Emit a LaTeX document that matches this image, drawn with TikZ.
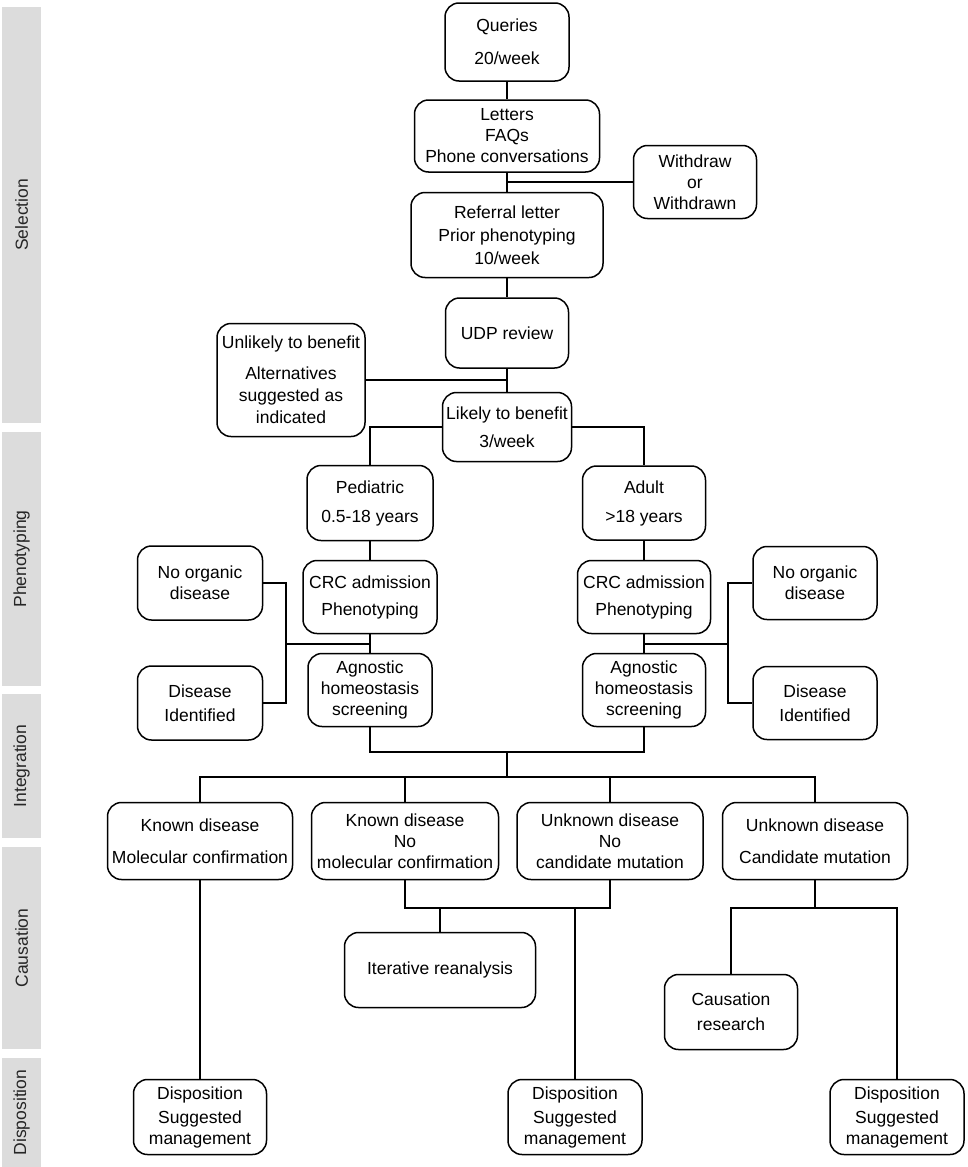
\documentclass[tikz,border=0pt]{standalone}
\usepackage{fontspec}
\setmainfont{Liberation Sans}
\usepackage{tikz}
\usetikzlibrary{calc}
\definecolor{bargrey}{HTML}{DCDCDC}
\definecolor{bartext}{HTML}{262626}

\begin{document}
\begin{tikzpicture}[x=1pt, y=-1pt,
    stage/.style={draw, line width=1.5pt, rounded corners=14pt, align=center,
        inner sep=2pt, font=\fontsize{17.5}{21}\selectfont},
    phase/.style={fill=bargrey, rotate=90, inner sep=0pt, minimum height=39pt,
        text=bartext, font=\fontsize{17.5}{20}\selectfont},
    link/.style={line width=1.5pt}]

\useasboundingbox (0,0) rectangle (968,1167);

% ---- BARRES DE FASE (esquerra) ----
\node[phase, minimum width=416pt] (selection) at (21.5,215) {Selection};
\node[phase, minimum width=254pt] (phenotyping) at (21.5,559) {Phenotyping};
\node[phase, minimum width=144pt] (integration) at (21.5,766) {Integration};
\node[phase, minimum width=202pt] (causation) at (21.5,948) {Causation};
\node[phase, minimum width=109pt] (disposition) at (21.5,1112.5) {Disposition};

% ---- SELECCIO ----
\node[stage, minimum width=124pt, minimum height=78pt] (queries) at (507,42)
    {Queries\\[12pt]20/week};
\node[stage, minimum width=185pt, minimum height=72pt] (letters) at (507,136)
    {Letters\\FAQs\\Phone conversations};
\node[stage, minimum width=123pt, minimum height=73pt] (withdraw) at (695,182)
    {Withdraw\\or\\Withdrawn};
\node[stage, minimum width=192pt, minimum height=85pt] (referral) at (507,235)
    {Referral letter\\[2pt]Prior phenotyping\\[2pt]10/week};
\node[stage, minimum width=123pt, minimum height=70pt] (review) at (507,333)
    {UDP review};
\node[stage, minimum width=148pt, minimum height=113pt] (unlikely) at (291,380)
    {Unlikely to benefit\\[10pt]Alternatives\\[1pt]suggested as\\[1pt]indicated};
\node[stage, minimum width=129pt, minimum height=69pt] (likely) at (507,427)
    {Likely to benefit\\[7pt]3/week};

% ---- FENOTIPAT ----
\node[stage, minimum width=126pt, minimum height=75pt] (pediatric) at (370,503)
    {Pediatric\\[8pt]0.5-18 years};
\node[stage, minimum width=123pt, minimum height=74pt] (adult) at (644,503)
    {Adult\\[8pt]>18 years};
\node[stage, minimum width=134pt, minimum height=73pt] (crcL) at (370,597)
    {CRC admission\\[6pt]Phenotyping};
\node[stage, minimum width=133pt, minimum height=73pt] (crcR) at (644,597)
    {CRC admission\\[6pt]Phenotyping};
\node[stage, minimum width=124pt, minimum height=73pt] (agnL) at (370,690)
    {Agnostic\\homeostasis\\screening};
\node[stage, minimum width=123pt, minimum height=73pt] (agnR) at (644,690)
    {Agnostic\\homeostasis\\screening};
\node[stage, minimum width=125pt, minimum height=74pt] (noorgL) at (200,583)
    {No organic\\disease};
\node[stage, minimum width=125pt, minimum height=74pt] (diseaseL) at (200,703)
    {Disease\\[3pt]Identified};
\node[stage, minimum width=124pt, minimum height=73pt] (noorgR) at (815,583)
    {No organic\\disease};
\node[stage, minimum width=124pt, minimum height=73pt] (diseaseR) at (815,703)
    {Disease\\[3pt]Identified};

% ---- INTEGRACIO ----
\node[stage, minimum width=185pt, minimum height=77pt] (knownmol) at (200,841)
    {Known disease\\[11pt]Molecular confirmation};
\node[stage, minimum width=187pt, minimum height=77pt] (knownno) at (405,841)
    {Known disease\\No\\molecular confirmation};
\node[stage, minimum width=186pt, minimum height=77pt] (unknownno) at (610,841)
    {Unknown disease\\No\\candidate mutation};
\node[stage, minimum width=185pt, minimum height=77pt] (unknowncand) at (815,841)
    {Unknown disease\\[11pt]Candidate mutation};

% ---- CAUSACIO I DISPOSICIO ----
\node[stage, minimum width=191pt, minimum height=75pt] (iterative) at (440,970)
    {Iterative reanalysis};
\node[stage, minimum width=133pt, minimum height=75pt] (causres) at (731,1012)
    {Causation\\[4pt]research};
\node[stage, minimum width=133pt, minimum height=75pt] (dispL) at (200,1117)
    {Disposition\\[3pt]Suggested\\management};
\node[stage, minimum width=134pt, minimum height=75pt] (dispM) at (575,1117)
    {Disposition\\[3pt]Suggested\\management};
\node[stage, minimum width=134pt, minimum height=75pt] (dispR) at (897,1117)
    {Disposition\\[3pt]Suggested\\management};

% Punts d'unio
\coordinate (bkL) at (286,644);
\coordinate (bkR) at (728,644);
\coordinate (phenJ) at (507,752);
\coordinate (splitJ) at (507,777);
\coordinate (iterJ) at (440,908);
\coordinate (candJ) at (815,908);

% ---- CONNECTORS ----
\draw[link] (queries) -- (letters);
\draw[link] (letters) -- (referral);
\draw[link] (withdraw.west) -- (letters |- withdraw.west);
\draw[link] (referral) -- (review);
\draw[link] (review) -- (likely);
\draw[link] (unlikely.east) -- (review |- unlikely.east);
\draw[link] (likely.west) -| (pediatric.north);
\draw[link] (likely.east) -| (adult.north);
\draw[link] (pediatric) -- (crcL);
\draw[link] (adult) -- (crcR);
\draw[link] (crcL) -- (agnL);
\draw[link] (crcR) -- (agnR);
\draw[link] (noorgL.east) -| (bkL) |- (diseaseL.east);
\draw[link] (bkL) -- (crcL.south |- bkL);
\draw[link] (noorgR.west) -| (bkR) |- (diseaseR.west);
\draw[link] (bkR) -- (crcR.south |- bkR);
\draw[link] (agnL.south) |- (phenJ) -| (agnR.south);
\draw[link] (phenJ) -- (splitJ);
\draw[link] (knownmol.north) |- (splitJ) -| (unknowncand.north);
\draw[link] (knownno.north) -- (knownno.north |- splitJ);
\draw[link] (unknownno.north) -- (unknownno.north |- splitJ);
\draw[link] (knownmol) -- (dispL);
\draw[link] (knownno.south) |- (iterJ) -| (unknownno.south);
\draw[link] (iterJ) -- (iterative.north);
\draw[link] (dispM.north) -- (dispM.north |- iterJ);
\draw[link] (unknowncand.south) -- (candJ);
\draw[link] (causres.north) |- (candJ) -| (dispR.north);

\end{tikzpicture}
\end{document}
